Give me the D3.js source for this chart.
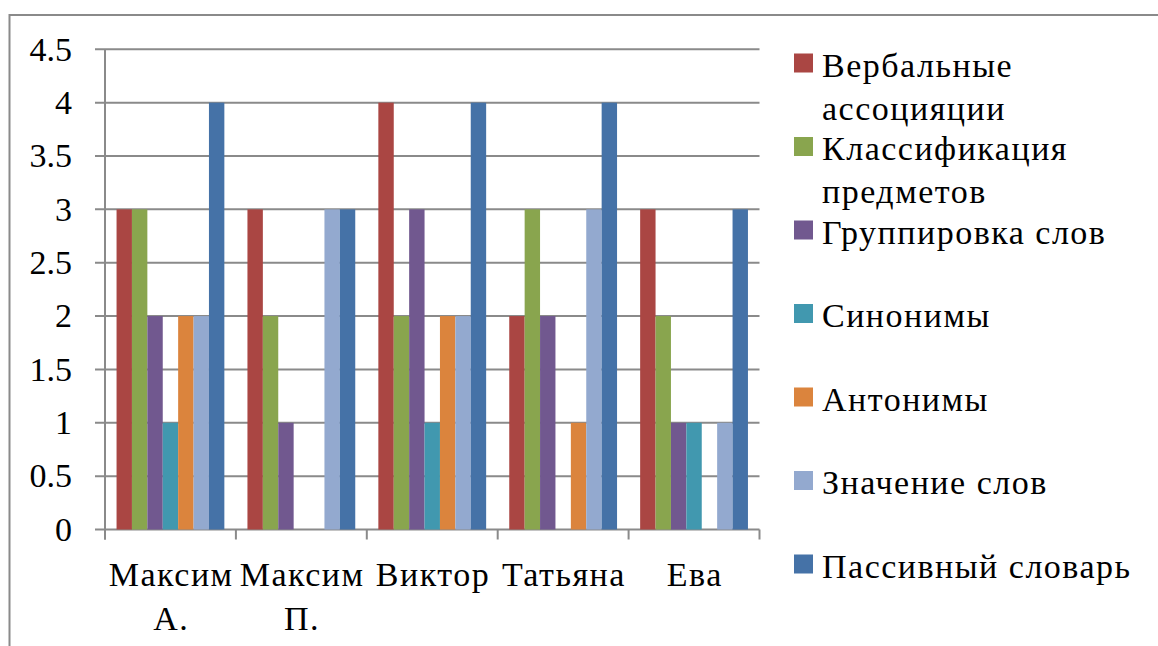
<!DOCTYPE html>
<html><head><meta charset="utf-8">
<script src="https://cdn.jsdelivr.net/npm/d3@7"></script>
<style>body{margin:0;background:#fff}svg{display:block}</style>
</head><body>
<script>
const categories = [["Максим","А."],["Максим","П."],["Виктор"],["Татьяна"],["Ева"]];
const seriesNames = [["Вербальные","ассоцияции"],["Классификация","предметов"],["Группировка слов"],["Синонимы"],["Антонимы"],["Значение слов"],["Пассивный словарь"]];
const seriesColors = ["#AA4643","#89A54E","#71588F","#4198AF","#DB843D","#93A9CF","#4572A7"];
const verbal      = [3,3,4,2,3];
const classif     = [3,2,2,3,2];
const grouping    = [2,1,3,2,1];
const synonyms    = [1,0,1,0,1];
const antonyms    = [2,0,2,1,0];
const meaning     = [2,3,2,3,1];
const passive     = [4,3,4,4,3];
const seriesValues = [verbal,classif,grouping,synonyms,antonyms,meaning,passive];
const yTicks = [0,0.5,1,1.5,2,2.5,3,3.5,4,4.5];

const W=1158,H=646;
const svg=d3.select("body").append("svg").attr("width",W).attr("height",H)
  .style("font-family","\"Times New Roman\", \"Liberation Serif\", \"DejaVu Serif\", serif");
const gray="#8a8a8a";
svg.append("path").attr("d","M9.5,646V15H1158").attr("fill","none").attr("stroke",gray).attr("stroke-width",2);

const x0=105,x1=759.5,yTop=49.3,yBot=529.5;
const x=d3.scaleBand().domain(d3.range(categories.length)).range([x0,x1]).paddingInner(0).paddingOuter(0);
const bw=x.bandwidth()/(seriesNames.length+1.5);
const xs=d3.scaleBand().domain(d3.range(seriesNames.length)).range([0.75*bw,x.bandwidth()-0.75*bw]);
const y=d3.scaleLinear().domain([0,4.5]).range([yBot,yTop]);

svg.append("g").selectAll("line").data(yTicks).join("line")
 .attr("x1",95).attr("x2",x1).attr("y1",d=>y(d)).attr("y2",d=>y(d))
 .attr("stroke",gray).attr("stroke-width",2);
svg.append("line").attr("x1",x0).attr("x2",x0).attr("y1",yTop).attr("y2",yBot+10).attr("stroke",gray).attr("stroke-width",2);
svg.append("g").selectAll("line").data(d3.range(categories.length+1)).join("line")
 .attr("x1",d=>x0+d*x.bandwidth()).attr("x2",d=>x0+d*x.bandwidth()).attr("y1",yBot).attr("y2",yBot+10)
 .attr("stroke",gray).attr("stroke-width",2);

seriesValues.forEach((vals,si)=>{
  svg.append("g").selectAll("rect").data(vals).join("rect")
   .attr("x",(d,i)=>x(i)+xs(si)).attr("width",xs.bandwidth())
   .attr("y",d=>y(d)).attr("height",d=>yBot-y(d))
   .attr("fill",seriesColors[si]);
});

svg.append("g").selectAll("text").data(yTicks).join("text")
 .attr("x",72).attr("y",d=>y(d)).attr("dy","0.33em").attr("text-anchor","end")
 .attr("font-size",34).text(d=>d);

const xl=svg.append("g").selectAll("text").data(categories).join("text")
 .attr("text-anchor","middle").attr("font-size",34).style("letter-spacing","1.5px");
xl.each(function(lines,i){
  const t=d3.select(this);
  lines.forEach((l,k)=>t.append("tspan").attr("x",x(i)+x.bandwidth()/2+0.75).attr("y",586+k*44).text(l));
});

const lg=svg.append("g").selectAll("g").data(seriesNames).join("g")
 .attr("transform",(d,i)=>`translate(0,${76.5+i*83.5})`);
lg.append("rect").attr("x",794).attr("y",-23).attr("width",19).attr("height",19).attr("fill",(d,i)=>seriesColors[i]);
lg.append("text").attr("font-size",34).style("letter-spacing","1.5px").each(function(lines){
  const t=d3.select(this);
  lines.forEach((l,k)=>t.append("tspan").attr("x",822).attr("y",k*43.3).text(l));
});
</script>
</body></html>
